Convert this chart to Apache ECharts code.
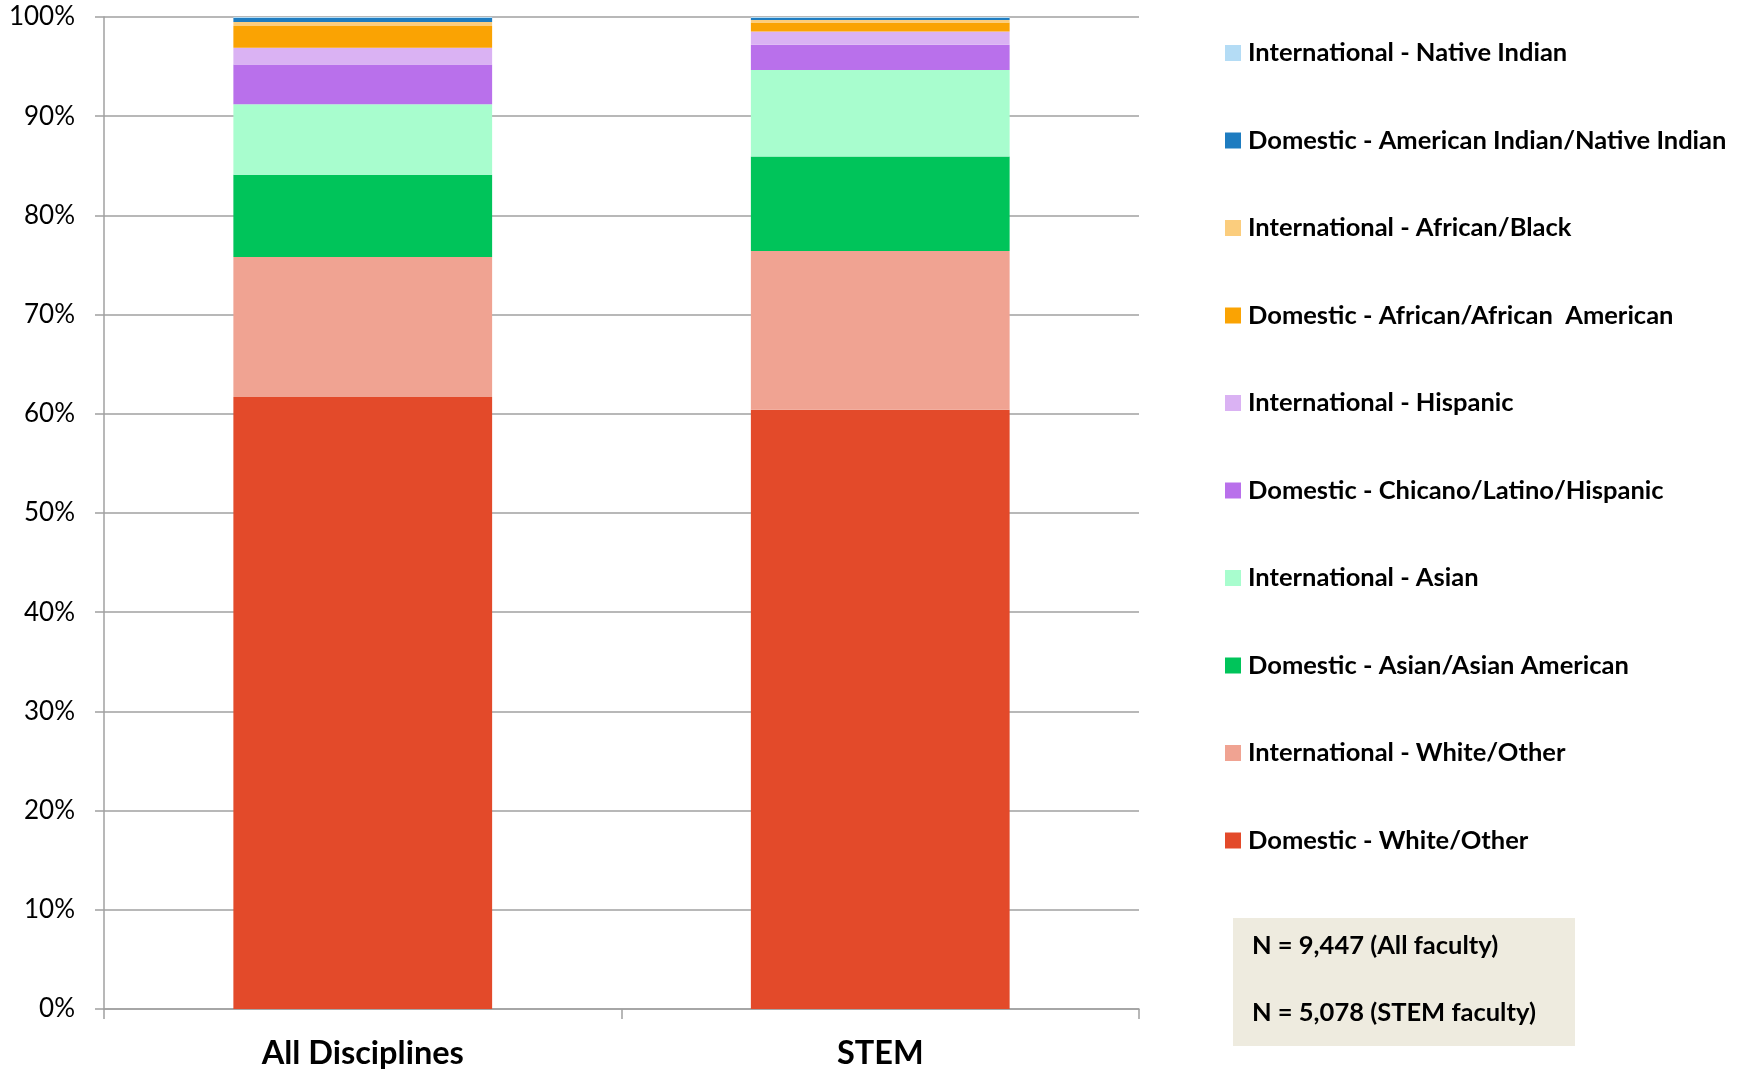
<!DOCTYPE html>
<html>
<head>
<meta charset="utf-8">
<script src="https://cdn.jsdelivr.net/npm/echarts@6/dist/echarts.min.js"></script>
<style>
html,body{margin:0;padding:0;background:#fff;}
#chart{width:1742px;height:1072px;}
</style>
</head>
<body>
<div id="chart"></div>
<script>
const categories = ['All Disciplines', 'STEM'];
const seriesNames = [
  'Domestic - White/Other',
  'International - White/Other',
  'Domestic - Asian/Asian American',
  'International - Asian',
  'Domestic - Chicano/Latino/Hispanic',
  'International - Hispanic',
  'Domestic - African/African  American',
  'International - African/Black',
  'Domestic - American Indian/Native Indian',
  'International - Native Indian'
];
const domWhite   = [61.7, 60.4];
const intlWhite  = [14.1, 16.0];
const domAsian   = [8.3, 9.55];
const intlAsian  = [7.1, 8.7];
const domLatino  = [4.0, 2.55];
const intlHisp   = [1.7, 1.35];
const domAfrican = [2.2, 0.9];
const intlAfrican= [0.4, 0.25];
const domAmInd   = [0.4, 0.2];
const intlNative = [0.1, 0.1];
const yTicks = [0,10,20,30,40,50,60,70,80,90,100];
const nNotes = ['N = 9,447 (All faculty)', 'N = 5,078 (STEM faculty)'];

const seriesValues = [domWhite, intlWhite, domAsian, intlAsian, domLatino, intlHisp, domAfrican, intlAfrican, domAmInd, intlNative];
const colors = ['#E34A2A','#F0A392','#00C45A','#A8FDCE','#B970EB','#DAB2F3','#FAA303','#FBCD7D','#1E7CC0','#B4DCF5'];
const FONT = 'Lato, "Open Sans", sans-serif';

const chart = echarts.init(document.getElementById('chart'));
chart.setOption({
  animation: false,
  backgroundColor: '#fff',
  grid: {left: 104, right: 603, top: 17, bottom: 63, containLabel: false},
  xAxis: {
    type: 'category',
    data: categories,
    boundaryGap: true,
    axisLine: {show: true, lineStyle: {color: '#A0A0A0', width: 1.5}},
    axisTick: {show: true, length: 10, lineStyle: {color: '#A0A0A0', width: 1.5}},
    axisLabel: {color: '#000', fontFamily: FONT, fontWeight: 'bold', fontSize: 32.5, margin: 28}
  },
  yAxis: {
    type: 'value',
    min: yTicks[0], max: yTicks[yTicks.length-1], interval: 10,
    axisLine: {show: true, lineStyle: {color: '#A0A0A0', width: 1.5}},
    axisTick: {show: true, length: 9, lineStyle: {color: '#A0A0A0', width: 1.5}},
    splitLine: {show: true, lineStyle: {color: '#A0A0A0', width: 1.5}},
    axisLabel: {color: '#000', fontFamily: FONT, fontSize: 26, margin: 29, formatter: '{value}%'}
  },
  legend: {
    orient: 'vertical',
    left: 1225, top: 39,
    padding: 0,
    itemWidth: 16, itemHeight: 16,
    itemGap: 59.5,
    icon: 'rect',
    data: seriesNames.slice().reverse(),
    textStyle: {color: '#000', fontFamily: FONT, fontWeight: 'bold', fontSize: 25.5, lineHeight: 28, padding: [0,0,0,2]}
  },
  series: seriesNames.map((name, i) => ({
    name: name,
    type: 'bar',
    stack: 'total',
    barWidth: '50%',
    data: seriesValues[i],
    itemStyle: {color: colors[i]}
  })),
  graphic: [
    {type: 'rect', left: 1233, top: 918, shape: {width: 342, height: 128}, style: {fill: '#EEEBDF'}},
    {type: 'text', left: 1252, top: 948 - 15, style: {text: nNotes[0], fill: '#000', font: 'bold 25.5px ' + FONT}},
    {type: 'text', left: 1252, top: 1015 - 15, style: {text: nNotes[1], fill: '#000', font: 'bold 25.5px ' + FONT}}
  ]
});
</script>
</body>
</html>
